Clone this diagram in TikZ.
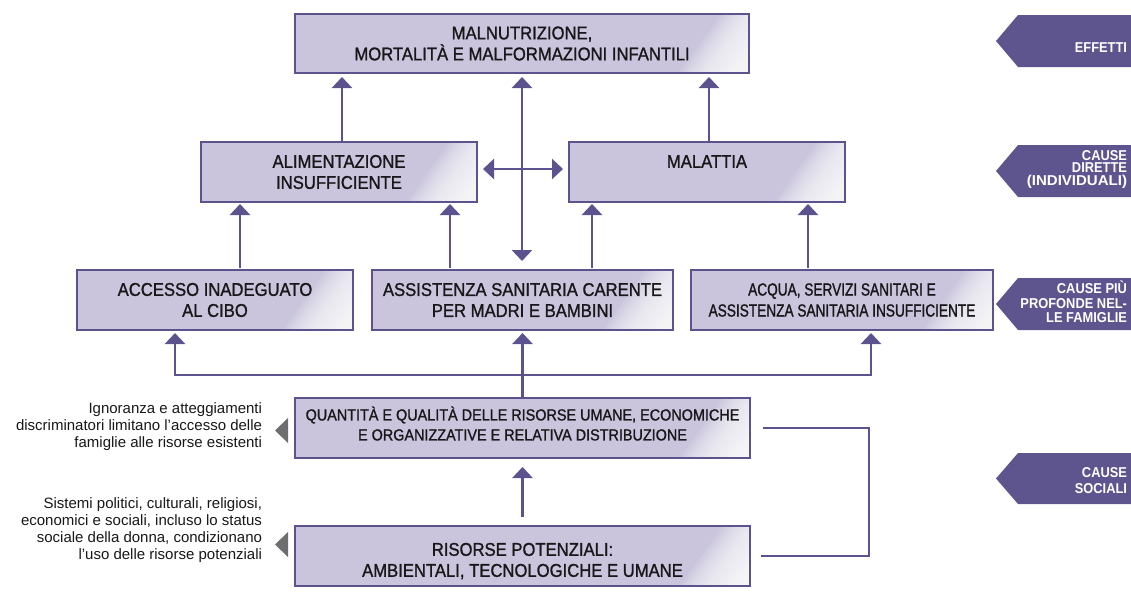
\documentclass[tikz,border=0pt]{standalone}
\usepackage{fontspec}
\setmainfont{Liberation Sans}
\newfontfamily\boxfont[FakeStretch=0.9,FakeBold=1.2]{Liberation Sans}
\newfontfamily\narrowfont[FakeStretch=0.78,FakeBold=1.2]{Liberation Sans}
\newfontfamily\tabfont[FakeStretch=0.9]{Liberation Sans}
\newfontfamily\tabwidefont[FakeStretch=1.05]{Liberation Sans}
\usetikzlibrary{arrows.meta,calc}
\definecolor{boxfill}{RGB}{202,197,221}
\definecolor{purp}{RGB}{92,82,142}
\definecolor{tabfill}{RGB}{94,84,142}
\definecolor{markgray}{RGB}{110,110,112}
\definecolor{txt}{RGB}{25,23,25}
\newcommand{\topstrut}[1]{\rule{0pt}{#1}}
\begin{document}
\begin{tikzpicture}[x=1pt,y=-1pt,
  box/.style={draw=purp, line width=1.3pt, fill=boxfill, anchor=north west,
    inner sep=0pt, outer sep=0pt, align=center, text=txt,
    font=\boxfont\fontsize{18.5}{21}\selectfont,
    path picture={\foreach \d in {2.5,5,...,70}
      \fill[white, fill opacity=0.085]
        ([xshift=-\d pt]path picture bounding box.south east) --
        ([yshift=1.4*\d pt]path picture bounding box.south east) --
        (path picture bounding box.south east) -- cycle;}},
  arr/.style={draw=purp, line width=2.6pt, -{Triangle[width=20pt,length=11pt]}},
  darr/.style={draw=purp, line width=2.6pt, {Triangle[width=20pt,length=11pt]}-{Triangle[width=20pt,length=11pt]}},
  conn/.style={draw=purp, line width=2.6pt},
  tabshape/.style={fill=tabfill},
  tabtext/.style={inner sep=0pt, outer sep=0pt, align=right, text=white,
    font=\tabfont\bfseries\fontsize{14.3}{14.7}\selectfont},
  sidetext/.style={inner sep=0pt, outer sep=0pt, align=right, text=txt,
    font=\fontsize{15}{17.3}\selectfont, anchor=north east},
  marker/.style={fill=markgray}
]
\useasboundingbox (0,0) rectangle (1131,603);

% boxes
\node[box, minimum width=454pt, minimum height=59pt] (top) at (295,14)
  {MALNUTRIZIONE,\\MORTALITÀ E MALFORMAZIONI INFANTILI};
\node[box, minimum width=276pt, minimum height=60pt] (al) at (201,142)
  {ALIMENTAZIONE\\INSUFFICIENTE};
\node[box, minimum width=276pt, minimum height=60pt] (ma) at (569,142)
  {MALATTIA\\\phantom{X}};
\node[box, minimum width=276pt, minimum height=60pt] (ac) at (77,270)
  {ACCESSO INADEGUATO\\AL CIBO};
\node[box, minimum width=301pt, minimum height=60pt] (as) at (372,270)
  {ASSISTENZA SANITARIA CARENTE\\PER MADRI E BAMBINI};
\node[box, minimum width=302pt, minimum height=60pt, font=\narrowfont\fontsize{17.5}{21}\selectfont] (aq) at (691,270)
  {ACQUA, SERVIZI SANITARI E\\ASSISTENZA SANITARIA INSUFFICIENTE};
\node[box, minimum width=455pt, minimum height=60pt, font=\boxfont\fontsize{16}{20}\selectfont] (qu) at (295,398)
  {QUANTITÀ E QUALITÀ DELLE RISORSE UMANE, ECONOMICHE\\E ORGANIZZATIVE E RELATIVA DISTRIBUZIONE\\[-11pt]\mbox{}};
\node[box, minimum width=455pt, minimum height=60pt] (ri) at (295,526)
  {\mbox{}\\[2pt]RISORSE POTENZIALI:\\AMBIENTALI, TECNOLOGICHE E UMANE};

% guide coordinates
\coordinate (g1) at (342,0);
\coordinate (g3) at (709,0);
\coordinate (g4) at (240,0);
\coordinate (g5) at (450,0);
\coordinate (g6) at (592,0);
\coordinate (g7) at (808,0);
\coordinate (gL) at (175,0);
\coordinate (gR) at (871,0);
\coordinate (busy) at (0,375);
\coordinate (hy) at (0,169);
\coordinate (fx) at (869,0);

% connectors
\draw[arr, shorten >=4pt] (al.north -| g1) -- (top.south -| g1);
\draw[arr, shorten >=4pt] (ma.north -| g3) -- (top.south -| g3);
\draw[darr, shorten <=4pt, shorten >=9pt] (top.south) -- (as.north -| top.south);
\draw[darr, shorten <=6pt, shorten >=6pt] (al.east |- hy) -- (ma.west |- hy);
\draw[arr, shorten <=2pt, shorten >=2pt] (ac.north -| g4) -- (al.south -| g4);
\draw[arr, shorten <=2pt, shorten >=2pt] (as.north -| g5) -- (al.south -| g5);
\draw[arr, shorten <=2pt, shorten >=2pt] (as.north -| g6) -- (ma.south -| g6);
\draw[arr, shorten <=2pt, shorten >=2pt] (aq.north -| g7) -- (ma.south -| g7);
\draw[arr, shorten >=3pt] (qu.north |- busy) -| (ac.south -| gL);
\draw[arr, shorten >=3pt] (qu.north |- busy) -| (aq.south -| gR);
\draw[arr, shorten >=3pt] (qu.north) -- (as.south);
\draw[arr, shorten <=9pt, shorten >=9pt] (ri.north) -- (qu.south);
\draw[conn] ([xshift=13pt]qu.east) -| (fx |- ri.east) -- ([xshift=11pt]ri.east);

% right-hand tabs
\path[tabshape] (1018,15) -- (1131,15) -- (1131,67) -- (1018,67) -- (996,41) -- cycle;
\path[tabshape] (1018,145) -- (1131,145) -- (1131,197) -- (1018,197) -- (996,171) -- cycle;
\path[tabshape] (1018,278) -- (1131,278) -- (1131,330) -- (1018,330) -- (996,304) -- cycle;
\path[tabshape] (1018,453) -- (1131,453) -- (1131,504) -- (1018,504) -- (996,478.5) -- cycle;
\node[tabtext, anchor=base east] (t1) at (1127,52) {EFFETTI};
\node[tabtext, anchor=north east, font=\tabfont\bfseries\fontsize{14.3}{12.7}\selectfont] (t2) at (1127,146.5)
  {\topstrut{13.5pt}CAUSE\\DIRETTE\\\tabwidefont\bfseries(INDIVIDUALI)};
\node[tabtext, anchor=north east] (t3) at (1127,279.8)
  {\topstrut{13.5pt}CAUSE PIÙ\\PROFONDE NEL-\\LE FAMIGLIE};
\node[tabtext, anchor=north east, font=\tabfont\bfseries\fontsize{14.3}{16}\selectfont] (t4) at (1127,463.8)
  {\topstrut{13.5pt}CAUSE\\SOCIALI};

% left-hand notes
\node[sidetext] (n1) at (262,401)
  {\topstrut{12pt}Ignoranza e atteggiamenti\\discriminatori limitano l’accesso delle\\famiglie alle risorse esistenti};
\node[sidetext] (n2) at (262,496)
  {\topstrut{12pt}Sistemi politici, culturali, religiosi,\\economici e sociali, incluso lo status\\sociale della donna, condizionano\\l’uso delle risorse potenziali};
\path[marker] (275,430.5) -- (288,418) -- (288,443) -- cycle;
\path[marker] (275,544.5) -- (288,532) -- (288,557) -- cycle;
\end{tikzpicture}
\end{document}
